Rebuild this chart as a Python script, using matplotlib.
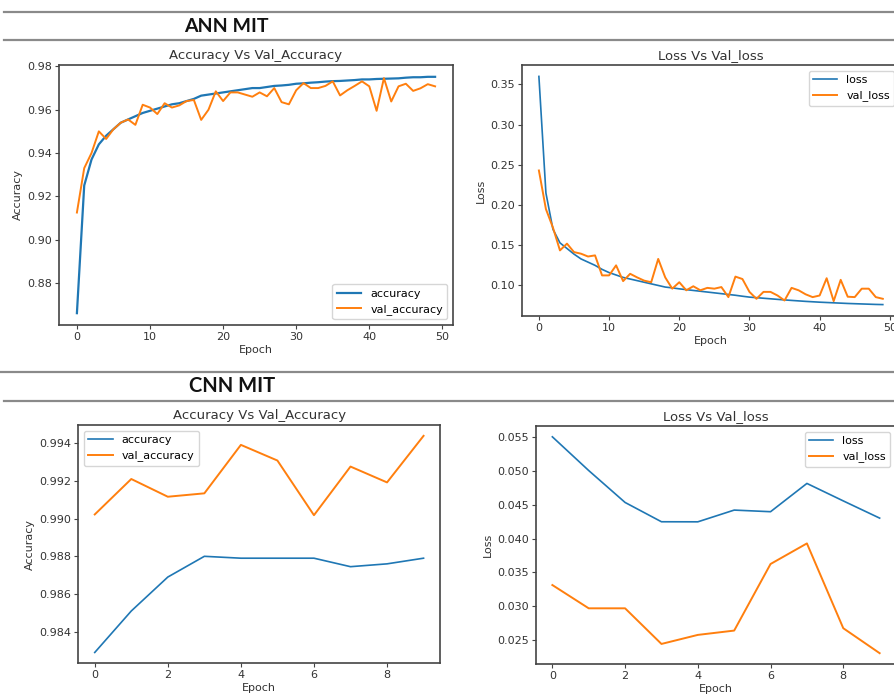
import matplotlib
matplotlib.use("Agg")
import matplotlib.pyplot as plt
from matplotlib.lines import Line2D

# ---------------- data ----------------
ann_epochs = list(range(50))
ann_accuracy = [0.866, 0.925, 0.937, 0.944, 0.948, 0.951, 0.954, 0.9555, 0.957, 0.9585,
                0.9595, 0.9605, 0.9615, 0.9625, 0.963, 0.964, 0.965, 0.9665, 0.967, 0.9675,
                0.968, 0.9685, 0.969, 0.9695, 0.970, 0.970, 0.9705, 0.971, 0.9712, 0.9715,
                0.972, 0.9722, 0.9725, 0.9727, 0.973, 0.9732, 0.9733, 0.9735, 0.9737, 0.974,
                0.974, 0.9742, 0.9743, 0.9744, 0.9745, 0.9748, 0.975, 0.975, 0.9752, 0.9752]
ann_val_accuracy = [0.9125, 0.933, 0.940, 0.950, 0.9465, 0.951, 0.954, 0.9555, 0.953, 0.9623,
                    0.961, 0.958, 0.963, 0.961, 0.962, 0.964, 0.9645, 0.9553, 0.960, 0.9685,
                    0.964, 0.968, 0.968, 0.967, 0.966, 0.968, 0.9662, 0.970, 0.9635, 0.9625,
                    0.969, 0.9723, 0.970, 0.970, 0.971, 0.9731, 0.9666, 0.969, 0.971, 0.9731,
                    0.9708, 0.9595, 0.9746, 0.9638, 0.9708, 0.972, 0.9687, 0.9699, 0.9718, 0.9708]
ann_loss = [0.360, 0.215, 0.170, 0.153, 0.146, 0.139, 0.133, 0.129, 0.125, 0.120,
            0.116, 0.113, 0.110, 0.108, 0.106, 0.104, 0.102, 0.100, 0.098, 0.097,
            0.0958, 0.0948, 0.0938, 0.0928, 0.0918, 0.0908, 0.0898, 0.0888, 0.0878, 0.0866,
            0.0855, 0.0848, 0.0841, 0.0834, 0.0827, 0.082, 0.0814, 0.0808, 0.0802, 0.0797,
            0.0792, 0.0788, 0.0784, 0.078, 0.0776, 0.0773, 0.077, 0.0767, 0.0764, 0.0762]
ann_val_loss = [0.243, 0.195, 0.172, 0.1436, 0.152, 0.1415, 0.1395, 0.136, 0.1374, 0.1125,
                0.1125, 0.125, 0.1054, 0.1145, 0.110, 0.106, 0.104, 0.133, 0.110, 0.096,
                0.104, 0.094, 0.099, 0.094, 0.097, 0.096, 0.098, 0.0855, 0.111, 0.108,
                0.092, 0.0834, 0.092, 0.092, 0.0875, 0.0813, 0.097, 0.094, 0.089, 0.0855,
                0.0875, 0.109, 0.0805, 0.107, 0.086, 0.0855, 0.096, 0.096, 0.0855, 0.0834]

cnn_epochs = list(range(10))
cnn_accuracy = [0.9829, 0.9851, 0.9869, 0.9880, 0.9879, 0.9879, 0.9879, 0.98745, 0.9876, 0.9879]
cnn_val_accuracy = [0.99022, 0.9921, 0.99116, 0.99134, 0.99391, 0.99308, 0.99018, 0.99276, 0.99192, 0.99439]
cnn_loss = [0.0551, 0.0501, 0.04537, 0.04251, 0.0425, 0.04424, 0.0440, 0.04819, 0.0456, 0.04305]
cnn_val_loss = [0.03313, 0.02968, 0.02968, 0.0244, 0.02574, 0.02638, 0.03625, 0.0393, 0.02673, 0.02303]

section_titles = ["ANN MIT", "CNN MIT"]
acc_title = "Accuracy Vs Val_Accuracy"
loss_title = "Loss Vs Val_loss"

# ---------------- style ----------------
W, H = 894, 700
BLUE = "#1f77b4"
ORANGE = "#ff7f0e"
SPINE = "#444444"
TXT = "#333333"

plt.rcParams.update({
    "font.family": ["DejaVu Sans"],
    "font.size": 8,
    "axes.edgecolor": SPINE,
    "xtick.color": SPINE,
    "ytick.color": SPINE,
    "xtick.labelcolor": TXT,
    "ytick.labelcolor": TXT,
    "axes.labelcolor": TXT,
    "xtick.labelsize": 8,
    "ytick.labelsize": 8,
    "axes.titlesize": 9.5,
    "axes.labelsize": 8,
    "legend.fontsize": 8,
})

fig = plt.figure(figsize=(W / 100, H / 100), dpi=100)


def box(l, r, t, b):
    return [l / W, 1 - b / H, (r - l) / W, (b - t) / H]


def hline(y, x0=4, x1=W):
    fig.add_artist(Line2D([x0 / W, x1 / W], [1 - y / H, 1 - y / H],
                          transform=fig.transFigure, color="#8a8a8a", lw=1.6))


# section headers
hline(12)
hline(40)
fig.text(226 / W, 1 - 27 / H, section_titles[0], ha="center", va="center",
         fontsize=14, fontweight="bold", color="#111111",
         family=["Liberation Sans Narrow", "Lato", "DejaVu Sans"])
hline(372, 0)
hline(401, 4)
fig.text(232 / W, 1 - 386 / H, section_titles[1], ha="center", va="center",
         fontsize=14.5, fontweight="bold", color="#111111",
         family=["Liberation Sans Narrow", "Lato", "DejaVu Sans"])


def style(ax, title, ylabel):
    ax.set_title(title, color=TXT, pad=4)
    ax.set_xlabel("Epoch", labelpad=2)
    ax.set_ylabel(ylabel, labelpad=3)
    for s in ax.spines.values():
        s.set_linewidth(1.2)
    ax.tick_params(length=3, pad=2)


# top-left
ax1 = fig.add_axes(box(59, 453, 65, 325))
ax1.plot(ann_epochs, ann_accuracy, color=BLUE, lw=1.6, label="accuracy")
ax1.plot(ann_epochs, ann_val_accuracy, color=ORANGE, lw=1.4, label="val_accuracy")
style(ax1, acc_title, "Accuracy")
ax1.legend(loc="lower right", handlelength=2.2)

# top-right
ax2 = fig.add_axes(box(521.7, 900, 65, 316))
ax2.plot(ann_epochs, ann_loss, color=BLUE, lw=1.2, label="loss")
ax2.plot(ann_epochs, ann_val_loss, color=ORANGE, lw=1.4, label="val_loss")
style(ax2, loss_title, "Loss")
ax2.legend(loc="upper right", handlelength=2.2)

# bottom-left
ax3 = fig.add_axes(box(78.3, 440, 425, 663.3))
ax3.plot(cnn_epochs, cnn_accuracy, color=BLUE, lw=1.2, label="accuracy")
ax3.plot(cnn_epochs, cnn_val_accuracy, color=ORANGE, lw=1.4, label="val_accuracy")
style(ax3, acc_title, "Accuracy")
ax3.set_xticks([0, 2, 4, 6, 8])
ax3.legend(loc="upper left", handlelength=2.2)

# bottom-right
ax4 = fig.add_axes(box(536, 896, 426, 664))
ax4.plot(cnn_epochs, cnn_loss, color=BLUE, lw=1.2, label="loss")
ax4.plot(cnn_epochs, cnn_val_loss, color=ORANGE, lw=1.4, label="val_loss")
style(ax4, loss_title, "Loss")
ax4.set_xticks([0, 2, 4, 6, 8])
ax4.legend(loc="upper right", handlelength=2.2)

fig.savefig("out.png", dpi=100)
